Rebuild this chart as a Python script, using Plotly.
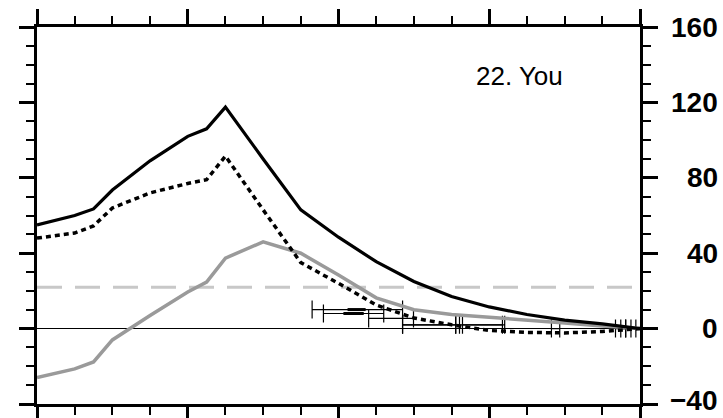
import plotly.graph_objects as go

# Sample positions along the horizontal axis (no tick labels are shown)
x_pos = [0, 1, 1.5, 2, 3, 4, 4.5, 5, 6, 7, 8, 9, 10, 11, 12, 13, 14, 15, 16]

# Three profiles
total = [55, 60, 63.5, 73.5, 89, 102, 106, 117.5, 90, 63, 48.5, 35.5, 25, 17, 11.5, 7.5, 4.5, 2.5, 0]
dotted = [48, 50.7, 54.5, 64, 72, 77, 79, 91.5, 63, 35, 24, 12.5, 5.6, 2, -1, -2, -2.3, -1.5, 0]
grey = [-26, -21.4, -17.7, -6, 7, 19.4, 24.7, 37.4, 46, 40, 28.4, 16.3, 10, 7.5, 6, 4.3, 3, 1.4, 0]

# Reference level
threshold = 22

# Observations: level, horizontal range, and inter-quartile span (None where not shown)
obs_y = [10.1, 8.0, 5.4, 2, 2, 2, 2, 0, 0, 0, 0]
obs_lo = [7.30, 7.60, 8.80, 9.70, 9.70, 11.29, 11.11, 13.65, 15.35, 15.49, 15.62]
obs_hi = [9.70, 9.20, 9.99, 11.11, 11.21, 12.35, 12.41, 13.87, 15.62, 15.76, 15.89]
obs_q1 = [8.24, 8.13, None, None, None, None, None, None, None, None, None]
obs_q3 = [8.72, 8.67, None, None, None, None, None, None, None, None, None]

y_ticks = [-40, 0, 40, 80, 120, 160]
station = "22. You"

fig = go.Figure()

# Horizontal range bars with end caps
obs_mid = [(lo + hi) / 2 for lo, hi in zip(obs_lo, obs_hi)]
fig.add_trace(go.Scatter(
    x=obs_mid, y=obs_y, mode="markers",
    marker=dict(size=1, color="rgba(0,0,0,0)"),
    error_x=dict(type="data", symmetric=False,
                 array=[h - m for h, m in zip(obs_hi, obs_mid)],
                 arrayminus=[m - l for l, m in zip(obs_lo, obs_mid)],
                 color="black", thickness=1.2, width=9),
    hoverinfo="skip",
))

# Thick inter-quartile segments
iq_x, iq_y = [], []
for q1, q3, yv in zip(obs_q1, obs_q3, obs_y):
    if q1 is None:
        continue
    iq_x += [q1, q3, None]
    iq_y += [yv, yv, None]
fig.add_trace(go.Scatter(x=iq_x, y=iq_y, mode="lines",
                         line=dict(color="black", width=3), hoverinfo="skip"))

fig.add_trace(go.Scatter(x=x_pos, y=grey, mode="lines",
                         line=dict(color="#9a9a9a", width=3.5)))
fig.add_trace(go.Scatter(x=x_pos, y=dotted, mode="lines",
                         line=dict(color="black", width=3.5, dash="5px,4px")))
fig.add_trace(go.Scatter(x=x_pos, y=total, mode="lines",
                         line=dict(color="black", width=3.2)))

fig.add_shape(type="line", xref="paper", x0=0, x1=1, yref="y",
              y0=threshold, y1=threshold, layer="below",
              line=dict(color="#c8c8c8", width=3, dash="25px,13px"))

# Right-aligned value labels for the vertical axis
y_min = min(y_ticks)
for v in y_ticks:
    at_bottom = v == y_min
    fig.add_annotation(xref="paper", x=1, xshift=80, xanchor="right",
                       yref="y", y=v,
                       yanchor="bottom" if at_bottom else "middle",
                       yshift=-14 if at_bottom else 0,
                       showarrow=False,
                       text="<b>" + str(v).replace("-", "\u2212") + "</b>",
                       font=dict(family="Liberation Sans, Arial", size=28, color="black"))

fig.add_annotation(x=12.8, y=134, xref="x", yref="y", showarrow=False,
                   text=station, xanchor="center", yanchor="middle",
                   font=dict(family="Liberation Sans, Arial", size=26, color="black"))

axis_common = dict(showline=True, linewidth=3, linecolor="black", mirror="allticks",
                   ticks="outside", ticklen=15, tickwidth=2.5, tickcolor="black",
                   showticklabels=False, showgrid=False, automargin=False)

fig.update_layout(
    width=723, height=418,
    margin=dict(l=37, r=83, t=27, b=14),
    plot_bgcolor="white", paper_bgcolor="white",
    showlegend=False,
    xaxis=dict(range=[0, 16], tick0=0, dtick=4, zeroline=False,
               minor=dict(dtick=1, ticklen=8, tickwidth=2, tickcolor="black",
                          ticks="outside", showgrid=False),
               **axis_common),
    yaxis=dict(range=[-40, 160], tick0=0, dtick=40, side="right",
               zeroline=True, zerolinecolor="black", zerolinewidth=1.2,
               minor=dict(dtick=10, ticklen=8, tickwidth=2, tickcolor="black",
                          ticks="outside", showgrid=False),
               **axis_common),
)

fig.write_html("out.html")
